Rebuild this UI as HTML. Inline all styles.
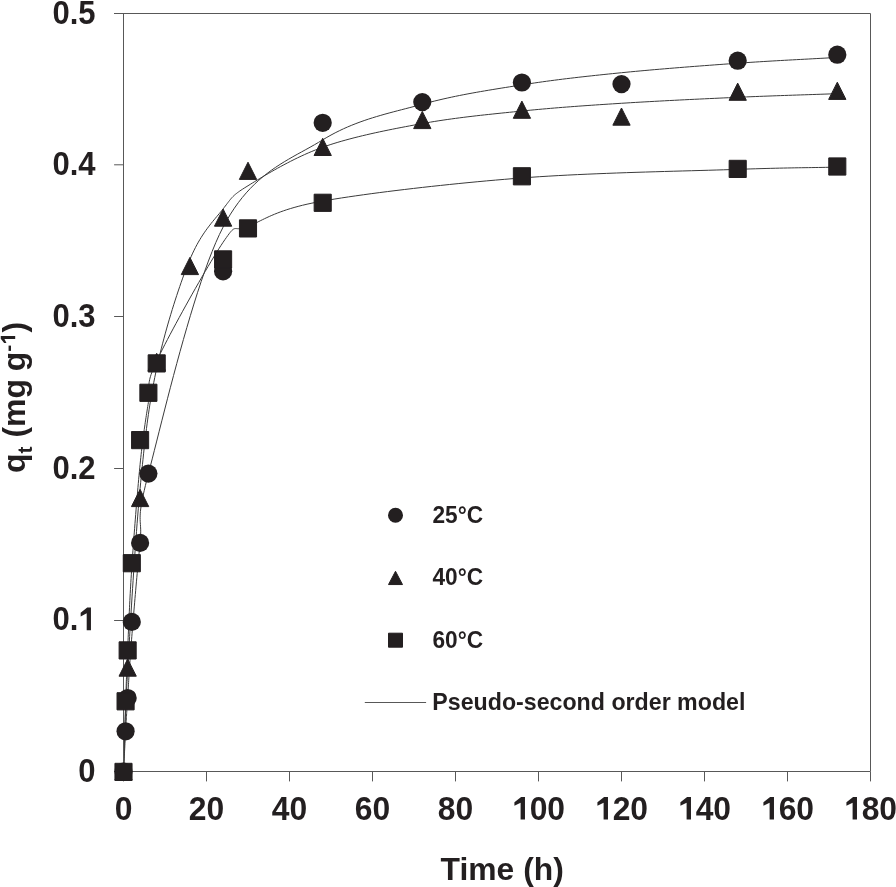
<!DOCTYPE html>
<html><head><meta charset="utf-8"><style>
html,body{margin:0;padding:0;background:#fff;width:896px;height:887px;overflow:hidden}
svg{display:block;will-change:transform}
text{font-family:"Liberation Sans",sans-serif}
</style></head><body>
<svg width="896" height="887" viewBox="0 0 896 887">
<path d="M123.50,771.50 L123.59,769.87 L123.67,768.24 L123.76,766.61 L123.85,764.96 L123.93,763.32 L124.02,761.67 L124.11,760.02 L124.19,758.38 L124.28,756.73 L124.36,755.08 L124.45,753.43 L124.54,751.79 L124.62,750.15 L124.71,748.51 L124.80,746.88 L124.88,745.25 L124.97,743.63 L125.06,742.02 L125.14,740.42 L125.23,738.82 L125.32,737.24 L125.40,735.66 L125.49,734.10 L125.58,732.55 L125.66,731.04 L125.74,729.57 L125.82,728.15 L125.90,726.77 L125.97,725.43 L126.05,724.11 L126.12,722.80 L126.19,721.51 L126.26,720.23 L126.33,718.95 L126.41,717.66 L126.48,716.36 L126.56,715.04 L126.64,713.69 L126.72,712.32 L126.80,710.90 L126.89,709.44 L126.99,707.93 L127.08,706.36 L127.18,704.73 L127.29,703.03 L127.40,701.25 L127.52,699.39 L127.65,697.44 L127.78,695.42 L127.91,693.38 L128.04,691.30 L128.17,689.18 L128.31,687.02 L128.44,684.82 L128.58,682.58 L128.73,680.30 L128.87,677.98 L129.02,675.61 L129.18,673.19 L129.34,670.72 L129.50,668.20 L129.67,665.63 L129.85,663.00 L130.03,660.32 L130.22,657.58 L130.42,654.78 L130.63,651.92 L130.84,649.00 L131.07,646.01 L131.30,642.96 L131.55,639.84 L131.80,636.66 L132.07,633.36 L132.35,629.91 L132.64,626.34 L132.94,622.64 L133.26,618.84 L133.58,614.94 L133.92,610.96 L134.26,606.91 L134.61,602.80 L134.96,598.64 L135.33,594.46 L135.69,590.25 L136.06,586.04 L136.43,581.83 L136.81,577.64 L137.18,573.48 L137.55,569.37 L137.93,565.31 L138.30,561.31 L138.67,557.40 L139.03,553.58 L139.40,549.87 L139.75,546.28 L140.10,542.81 L140.39,539.61 L140.58,536.76 L140.68,534.21 L140.71,531.92 L140.69,529.86 L140.62,527.97 L140.52,526.21 L140.41,524.53 L140.29,522.90 L140.20,521.27 L140.13,519.59 L140.10,517.83 L140.13,515.93 L140.23,513.86 L140.42,511.56 L140.71,509.00 L141.12,506.13 L141.66,502.91 L142.34,499.30 L143.17,495.24 L144.19,490.70 L145.38,485.63 L146.78,479.99 L148.40,473.74 L150.22,466.73 L152.22,458.89 L154.39,450.32 L156.72,441.06 L159.20,431.21 L161.82,420.82 L164.58,409.99 L167.46,398.77 L170.45,387.24 L173.56,375.48 L176.76,363.56 L180.04,351.54 L183.41,339.51 L186.85,327.54 L190.35,315.70 L193.90,304.07 L197.49,292.71 L201.12,281.70 L204.77,271.11 L208.44,261.02 L212.12,251.50 L215.79,242.62 L219.46,234.45 L223.10,227.08 L226.77,220.35 L230.53,214.07 L234.36,208.20 L238.26,202.72 L242.22,197.62 L246.25,192.86 L250.33,188.42 L254.46,184.29 L258.63,180.43 L262.83,176.83 L267.08,173.46 L271.34,170.29 L275.63,167.31 L279.94,164.48 L284.26,161.79 L288.58,159.22 L292.90,156.73 L297.22,154.31 L301.52,151.94 L305.81,149.58 L310.08,147.22 L314.32,144.83 L318.53,142.39 L322.70,139.88 L326.85,137.39 L331.00,135.05 L335.15,132.84 L339.30,130.77 L343.45,128.81 L347.60,126.96 L351.75,125.22 L355.90,123.58 L360.05,122.02 L364.20,120.55 L368.35,119.15 L372.50,117.82 L376.65,116.55 L380.80,115.33 L384.95,114.15 L389.10,113.01 L393.25,111.90 L397.40,110.80 L401.55,109.72 L405.70,108.65 L409.85,107.57 L414.00,106.49 L418.15,105.38 L422.30,104.25 L426.45,103.13 L430.60,102.04 L434.75,101.00 L438.90,100.00 L443.05,99.03 L447.20,98.10 L451.35,97.20 L455.50,96.32 L459.65,95.48 L463.80,94.66 L467.95,93.87 L472.10,93.10 L476.25,92.35 L480.40,91.62 L484.55,90.91 L488.70,90.21 L492.85,89.52 L497.00,88.84 L501.15,88.17 L505.30,87.51 L509.45,86.85 L513.60,86.20 L517.75,85.54 L521.90,84.89 L526.04,84.24 L530.15,83.61 L534.24,83.00 L538.31,82.41 L542.36,81.84 L546.41,81.28 L550.45,80.73 L554.49,80.20 L558.52,79.68 L562.56,79.17 L566.61,78.67 L570.66,78.19 L574.73,77.71 L578.82,77.23 L582.93,76.77 L587.07,76.31 L591.24,75.86 L595.43,75.40 L599.67,74.96 L603.94,74.51 L608.26,74.06 L612.62,73.62 L617.03,73.17 L621.50,72.72 L626.04,72.27 L630.65,71.82 L635.34,71.38 L640.10,70.94 L644.91,70.50 L649.77,70.07 L654.68,69.64 L659.62,69.22 L664.59,68.80 L669.58,68.38 L674.59,67.98 L679.60,67.57 L684.61,67.17 L689.62,66.78 L694.61,66.39 L699.58,66.01 L704.52,65.64 L709.43,65.27 L714.29,64.91 L719.10,64.56 L723.86,64.21 L728.55,63.87 L733.16,63.54 L737.70,63.22 L742.17,62.91 L746.58,62.61 L750.94,62.32 L755.26,62.04 L759.53,61.77 L763.77,61.51 L767.96,61.26 L772.13,61.01 L776.27,60.77 L780.38,60.54 L784.47,60.31 L788.54,60.09 L792.59,59.87 L796.64,59.65 L800.68,59.43 L804.71,59.21 L808.75,59.00 L812.79,58.78 L816.84,58.56 L820.89,58.34 L824.96,58.12 L829.05,57.89 L833.16,57.65 L837.30,57.42" fill="none" stroke="#3a3a3a" stroke-width="1"/>
<path d="M123.50,771.50 L123.67,767.34 L123.82,763.30 L123.96,759.36 L124.10,755.51 L124.22,751.73 L124.34,748.00 L124.46,744.31 L124.58,740.64 L124.69,736.96 L124.81,733.27 L124.93,729.54 L125.06,725.76 L125.19,721.91 L125.33,717.97 L125.49,713.93 L125.65,709.77 L125.83,705.47 L126.03,701.01 L126.24,696.38 L126.48,691.56 L126.73,686.53 L127.01,681.27 L127.32,675.77 L127.65,670.01 L128.01,663.93 L128.38,657.49 L128.78,650.73 L129.20,643.67 L129.63,636.36 L130.08,628.81 L130.55,621.07 L131.03,613.15 L131.53,605.10 L132.04,596.93 L132.56,588.69 L133.10,580.40 L133.64,572.10 L134.20,563.81 L134.76,555.57 L135.34,547.40 L135.92,539.34 L136.50,531.41 L137.09,523.65 L137.69,516.09 L138.29,508.76 L138.89,501.69 L139.49,494.91 L140.10,488.46 L140.70,482.26 L141.29,476.25 L141.86,470.41 L142.43,464.74 L143.00,459.21 L143.57,453.82 L144.14,448.55 L144.71,443.41 L145.29,438.37 L145.88,433.43 L146.48,428.57 L147.10,423.79 L147.74,419.07 L148.40,414.40 L149.08,409.77 L149.78,405.18 L150.52,400.60 L151.29,396.03 L152.09,391.47 L152.92,386.88 L153.80,382.28 L154.72,377.64 L155.69,372.96 L156.70,368.22 L157.77,363.42 L158.89,358.57 L160.06,353.68 L161.27,348.75 L162.53,343.81 L163.83,338.86 L165.17,333.90 L166.54,328.96 L167.93,324.04 L169.36,319.14 L170.80,314.29 L172.26,309.49 L173.74,304.74 L175.23,300.07 L176.72,295.48 L178.22,290.98 L179.72,286.58 L181.21,282.29 L182.70,278.12 L184.17,274.09 L185.64,270.19 L187.08,266.45 L188.50,262.87 L189.90,259.46 L191.29,256.22 L192.69,253.12 L194.11,250.17 L195.53,247.35 L196.96,244.65 L198.39,242.08 L199.83,239.63 L201.27,237.28 L202.71,235.03 L204.15,232.87 L205.59,230.81 L207.02,228.82 L208.44,226.91 L209.86,225.07 L211.26,223.28 L212.65,221.56 L214.02,219.88 L215.38,218.24 L216.73,216.63 L218.05,215.05 L219.35,213.50 L220.62,211.95 L221.88,210.42 L223.10,208.88 L224.25,207.41 L225.31,206.04 L226.27,204.78 L227.15,203.62 L227.97,202.54 L228.74,201.53 L229.47,200.59 L230.17,199.71 L230.86,198.87 L231.54,198.08 L232.24,197.31 L232.96,196.56 L233.71,195.82 L234.51,195.09 L235.38,194.34 L236.32,193.58 L237.34,192.79 L238.47,191.97 L239.70,191.10 L241.06,190.17 L242.56,189.18 L244.21,188.12 L246.02,186.98 L248.00,185.74 L250.14,184.42 L252.40,183.02 L254.78,181.56 L257.28,180.04 L259.88,178.47 L262.59,176.85 L265.39,175.19 L268.29,173.49 L271.27,171.77 L274.33,170.03 L277.47,168.28 L280.68,166.52 L283.95,164.75 L287.29,163.00 L290.68,161.26 L294.11,159.53 L297.59,157.83 L301.11,156.17 L304.66,154.54 L308.23,152.96 L311.83,151.43 L315.44,149.96 L319.07,148.56 L322.70,147.22 L326.37,145.94 L330.13,144.70 L333.96,143.48 L337.86,142.29 L341.82,141.13 L345.85,140.00 L349.93,138.90 L354.06,137.82 L358.23,136.77 L362.43,135.74 L366.68,134.74 L370.94,133.76 L375.23,132.81 L379.54,131.87 L383.86,130.96 L388.18,130.07 L392.50,129.19 L396.82,128.34 L401.12,127.50 L405.41,126.68 L409.68,125.88 L413.92,125.09 L418.13,124.31 L422.30,123.55 L426.45,122.81 L430.60,122.10 L434.75,121.42 L438.90,120.76 L443.05,120.13 L447.20,119.53 L451.35,118.94 L455.50,118.38 L459.65,117.83 L463.80,117.30 L467.95,116.79 L472.10,116.30 L476.25,115.81 L480.40,115.34 L484.55,114.89 L488.70,114.44 L492.85,114.00 L497.00,113.56 L501.15,113.14 L505.30,112.71 L509.45,112.29 L513.60,111.87 L517.75,111.45 L521.90,111.03 L526.04,110.61 L530.15,110.21 L534.24,109.82 L538.31,109.44 L542.36,109.07 L546.41,108.72 L550.45,108.37 L554.49,108.03 L558.52,107.70 L562.56,107.37 L566.61,107.06 L570.66,106.75 L574.73,106.44 L578.82,106.14 L582.93,105.85 L587.07,105.56 L591.24,105.27 L595.43,104.98 L599.67,104.70 L603.94,104.42 L608.26,104.13 L612.62,103.85 L617.03,103.57 L621.50,103.28 L626.04,103.00 L630.65,102.71 L635.34,102.43 L640.10,102.15 L644.91,101.88 L649.77,101.61 L654.68,101.34 L659.62,101.07 L664.59,100.80 L669.58,100.54 L674.59,100.29 L679.60,100.03 L684.61,99.78 L689.62,99.53 L694.61,99.29 L699.58,99.05 L704.52,98.82 L709.43,98.59 L714.29,98.36 L719.10,98.14 L723.86,97.92 L728.55,97.71 L733.16,97.50 L737.70,97.30 L742.17,97.10 L746.58,96.91 L750.94,96.73 L755.26,96.56 L759.53,96.39 L763.77,96.22 L767.96,96.07 L772.13,95.91 L776.27,95.76 L780.38,95.62 L784.47,95.47 L788.54,95.33 L792.59,95.20 L796.64,95.06 L800.68,94.92 L804.71,94.79 L808.75,94.65 L812.79,94.52 L816.84,94.38 L820.89,94.24 L824.96,94.10 L829.05,93.96 L833.16,93.81 L837.30,93.67" fill="none" stroke="#3a3a3a" stroke-width="1"/>
<path d="M123.50,771.50 L123.59,768.66 L123.67,765.80 L123.76,762.92 L123.85,760.03 L123.93,757.12 L124.02,754.21 L124.11,751.29 L124.19,748.37 L124.28,745.45 L124.36,742.53 L124.45,739.61 L124.54,736.71 L124.62,733.81 L124.71,730.94 L124.80,728.08 L124.88,725.23 L124.97,722.42 L125.06,719.63 L125.14,716.86 L125.23,714.14 L125.32,711.44 L125.40,708.78 L125.49,706.17 L125.58,703.59 L125.66,701.09 L125.74,698.67 L125.82,696.33 L125.90,694.06 L125.97,691.84 L126.05,689.68 L126.12,687.55 L126.19,685.46 L126.26,683.39 L126.33,681.34 L126.41,679.29 L126.48,677.24 L126.56,675.17 L126.64,673.09 L126.72,670.97 L126.80,668.82 L126.89,666.62 L126.99,664.36 L127.08,662.03 L127.18,659.64 L127.29,657.16 L127.40,654.58 L127.52,651.91 L127.65,649.12 L127.78,646.25 L127.91,643.32 L128.04,640.34 L128.17,637.30 L128.31,634.20 L128.44,631.06 L128.58,627.86 L128.73,624.61 L128.87,621.32 L129.02,617.98 L129.18,614.60 L129.34,611.17 L129.50,607.70 L129.67,604.19 L129.85,600.64 L130.03,597.05 L130.22,593.43 L130.42,589.77 L130.63,586.08 L130.84,582.35 L131.07,578.60 L131.30,574.82 L131.55,571.00 L131.80,567.17 L132.07,563.25 L132.35,559.20 L132.64,555.03 L132.94,550.76 L133.26,546.40 L133.58,541.96 L133.92,537.46 L134.26,532.91 L134.61,528.32 L134.96,523.72 L135.33,519.10 L135.69,514.48 L136.06,509.89 L136.43,505.32 L136.81,500.80 L137.18,496.33 L137.55,491.94 L137.93,487.63 L138.30,483.42 L138.67,479.32 L139.03,475.34 L139.40,471.51 L139.75,467.82 L140.10,464.30 L140.45,460.92 L140.79,457.64 L141.14,454.46 L141.48,451.37 L141.83,448.37 L142.17,445.45 L142.52,442.62 L142.87,439.86 L143.21,437.17 L143.56,434.55 L143.90,431.99 L144.25,429.48 L144.60,427.04 L144.94,424.64 L145.29,422.28 L145.63,419.96 L145.98,417.68 L146.32,415.44 L146.67,413.21 L147.02,411.02 L147.36,408.83 L147.71,406.67 L148.05,404.51 L148.40,402.35 L148.70,400.30 L148.91,398.43 L149.04,396.73 L149.11,395.16 L149.13,393.72 L149.11,392.37 L149.07,391.11 L149.01,389.90 L148.96,388.72 L148.92,387.56 L148.90,386.40 L148.92,385.20 L148.99,383.96 L149.12,382.65 L149.33,381.24 L149.63,379.72 L150.03,378.07 L150.54,376.26 L151.18,374.28 L151.95,372.10 L152.88,369.69 L153.97,367.05 L155.24,364.15 L156.70,360.96 L158.39,357.41 L160.33,353.45 L162.50,349.12 L164.88,344.46 L167.45,339.52 L170.19,334.31 L173.07,328.90 L176.07,323.32 L179.17,317.60 L182.35,311.78 L185.59,305.91 L188.86,300.02 L192.15,294.15 L195.43,288.35 L198.69,282.65 L201.89,277.08 L205.02,271.70 L208.06,266.53 L210.98,261.62 L213.76,257.00 L216.39,252.72 L218.83,248.81 L221.08,245.32 L223.10,242.28 L224.89,239.66 L226.47,237.40 L227.86,235.45 L229.08,233.81 L230.14,232.45 L231.08,231.33 L231.90,230.45 L232.63,229.77 L233.29,229.26 L233.90,228.91 L234.47,228.69 L235.03,228.58 L235.60,228.55 L236.20,228.57 L236.84,228.62 L237.55,228.69 L238.34,228.73 L239.25,228.74 L240.27,228.68 L241.45,228.53 L242.79,228.26 L244.31,227.85 L246.04,227.29 L248.00,226.53 L250.06,225.65 L252.09,224.74 L254.10,223.79 L256.13,222.82 L258.17,221.82 L260.26,220.79 L262.39,219.74 L264.60,218.67 L266.89,217.58 L269.29,216.48 L271.81,215.37 L274.46,214.25 L277.26,213.13 L280.23,211.99 L283.38,210.86 L286.73,209.73 L290.30,208.61 L294.10,207.49 L298.15,206.38 L302.47,205.28 L307.06,204.19 L311.96,203.13 L317.16,202.08 L322.70,201.06 L328.60,200.04 L334.89,199.00 L341.53,197.95 L348.50,196.90 L355.79,195.84 L363.36,194.77 L371.19,193.70 L379.26,192.64 L387.55,191.57 L396.03,190.52 L404.68,189.47 L413.48,188.44 L422.40,187.42 L431.42,186.42 L440.51,185.44 L449.66,184.48 L458.83,183.54 L468.01,182.64 L477.18,181.76 L486.30,180.92 L495.35,180.11 L504.32,179.35 L513.18,178.62 L521.90,177.94 L530.67,177.30 L539.67,176.69 L548.87,176.13 L558.25,175.59 L567.77,175.09 L577.41,174.62 L587.13,174.18 L596.91,173.77 L606.72,173.38 L616.52,173.01 L626.30,172.67 L636.02,172.34 L645.66,172.04 L655.18,171.75 L664.56,171.47 L673.76,171.21 L682.76,170.96 L691.53,170.72 L700.04,170.49 L708.27,170.26 L716.17,170.03 L723.73,169.81 L730.92,169.59 L737.70,169.36 L744.07,169.15 L750.07,168.95 L755.71,168.78 L761.02,168.62 L766.04,168.48 L770.77,168.35 L775.25,168.24 L779.51,168.14 L783.56,168.06 L787.44,167.98 L791.16,167.91 L794.76,167.84 L798.26,167.78 L801.68,167.73 L805.06,167.68 L808.40,167.63 L811.75,167.58 L815.12,167.53 L818.55,167.47 L822.04,167.41 L825.64,167.35 L829.37,167.28 L833.25,167.20 L837.30,167.11" fill="none" stroke="#3a3a3a" stroke-width="1"/>
<path d="M114,13.5 H870.5 V771.5 M123.5,13.5 V771.5 M123.5,771.5 H870.5" fill="none" stroke="#585858" stroke-width="1"/>
<path d="M114.5,771.5 H123 M114.5,620.5 H123 M114.5,468.5 H123 M114.5,316.5 H123 M114.5,164.8 H123 M114.5,13.5 H123 M123.5,772 V781 M206.5,772 V781 M289.5,772 V781 M372.5,772 V781 M455.5,772 V781 M538.5,772 V781 M621.5,772 V781 M704.5,772 V781 M787.5,772 V781 M870.5,772 V781" fill="none" stroke="#585858" stroke-width="1" stroke-linecap="round"/>
<circle cx="123.50" cy="771.50" r="9.1" fill="#231f20"/>
<circle cx="125.58" cy="731.30" r="9.1" fill="#231f20"/>
<circle cx="127.65" cy="698.00" r="9.1" fill="#231f20"/>
<circle cx="131.80" cy="621.90" r="9.1" fill="#231f20"/>
<circle cx="140.10" cy="542.90" r="9.1" fill="#231f20"/>
<circle cx="148.40" cy="473.60" r="9.1" fill="#231f20"/>
<circle cx="223.10" cy="271.30" r="9.1" fill="#231f20"/>
<circle cx="322.70" cy="122.80" r="9.1" fill="#231f20"/>
<circle cx="422.30" cy="102.10" r="9.1" fill="#231f20"/>
<circle cx="521.90" cy="82.50" r="9.1" fill="#231f20"/>
<circle cx="621.50" cy="84.10" r="9.1" fill="#231f20"/>
<circle cx="737.70" cy="60.70" r="9.1" fill="#231f20"/>
<circle cx="837.30" cy="54.70" r="9.1" fill="#231f20"/>
<path d="M123.50,762.90 L132.15,780.10 L114.85,780.10 Z" fill="#231f20" stroke="#231f20" stroke-width="1.0" stroke-linejoin="round"/>
<path d="M127.65,659.00 L136.30,676.20 L119.00,676.20 Z" fill="#231f20" stroke="#231f20" stroke-width="1.0" stroke-linejoin="round"/>
<path d="M140.10,489.40 L148.75,506.60 L131.45,506.60 Z" fill="#231f20" stroke="#231f20" stroke-width="1.0" stroke-linejoin="round"/>
<path d="M156.70,353.30 L165.35,370.50 L148.05,370.50 Z" fill="#231f20" stroke="#231f20" stroke-width="1.0" stroke-linejoin="round"/>
<path d="M189.90,257.40 L198.55,274.60 L181.25,274.60 Z" fill="#231f20" stroke="#231f20" stroke-width="1.0" stroke-linejoin="round"/>
<path d="M223.10,209.00 L231.75,226.20 L214.45,226.20 Z" fill="#231f20" stroke="#231f20" stroke-width="1.0" stroke-linejoin="round"/>
<path d="M248.00,162.20 L256.65,179.40 L239.35,179.40 Z" fill="#231f20" stroke="#231f20" stroke-width="1.0" stroke-linejoin="round"/>
<path d="M322.70,138.30 L331.35,155.50 L314.05,155.50 Z" fill="#231f20" stroke="#231f20" stroke-width="1.0" stroke-linejoin="round"/>
<path d="M422.30,111.40 L430.95,128.60 L413.65,128.60 Z" fill="#231f20" stroke="#231f20" stroke-width="1.0" stroke-linejoin="round"/>
<path d="M521.90,101.10 L530.55,118.30 L513.25,118.30 Z" fill="#231f20" stroke="#231f20" stroke-width="1.0" stroke-linejoin="round"/>
<path d="M621.50,108.00 L630.15,125.20 L612.85,125.20 Z" fill="#231f20" stroke="#231f20" stroke-width="1.0" stroke-linejoin="round"/>
<path d="M737.70,83.10 L746.35,100.30 L729.05,100.30 Z" fill="#231f20" stroke="#231f20" stroke-width="1.0" stroke-linejoin="round"/>
<path d="M837.30,82.20 L845.95,99.40 L828.65,99.40 Z" fill="#231f20" stroke="#231f20" stroke-width="1.0" stroke-linejoin="round"/>
<rect x="114.95" y="763.30" width="17.10" height="17.20" fill="#231f20" stroke="#231f20" stroke-width="1.0" stroke-linejoin="round"/>
<rect x="117.03" y="692.70" width="17.10" height="17.20" fill="#231f20" stroke="#231f20" stroke-width="1.0" stroke-linejoin="round"/>
<rect x="119.10" y="641.80" width="17.10" height="17.20" fill="#231f20" stroke="#231f20" stroke-width="1.0" stroke-linejoin="round"/>
<rect x="123.25" y="554.60" width="17.10" height="17.20" fill="#231f20" stroke="#231f20" stroke-width="1.0" stroke-linejoin="round"/>
<rect x="131.55" y="431.50" width="17.10" height="17.20" fill="#231f20" stroke="#231f20" stroke-width="1.0" stroke-linejoin="round"/>
<rect x="139.85" y="384.20" width="17.10" height="17.20" fill="#231f20" stroke="#231f20" stroke-width="1.0" stroke-linejoin="round"/>
<rect x="148.15" y="354.80" width="17.10" height="17.20" fill="#231f20" stroke="#231f20" stroke-width="1.0" stroke-linejoin="round"/>
<rect x="214.55" y="250.80" width="17.10" height="17.20" fill="#231f20" stroke="#231f20" stroke-width="1.0" stroke-linejoin="round"/>
<rect x="239.45" y="219.80" width="17.10" height="17.20" fill="#231f20" stroke="#231f20" stroke-width="1.0" stroke-linejoin="round"/>
<rect x="314.15" y="194.20" width="17.10" height="17.20" fill="#231f20" stroke="#231f20" stroke-width="1.0" stroke-linejoin="round"/>
<rect x="513.35" y="167.70" width="17.10" height="17.20" fill="#231f20" stroke="#231f20" stroke-width="1.0" stroke-linejoin="round"/>
<rect x="729.15" y="160.30" width="17.10" height="17.20" fill="#231f20" stroke="#231f20" stroke-width="1.0" stroke-linejoin="round"/>
<rect x="828.75" y="157.90" width="17.10" height="17.20" fill="#231f20" stroke="#231f20" stroke-width="1.0" stroke-linejoin="round"/>
<g font-family="Liberation Sans, sans-serif" font-weight="bold" fill="#231f20">
<g transform="translate(95.50,781.80) scale(0.94,1)"><text x="-18.35" y="0" font-size="33.0">0</text></g>
<g transform="translate(95.50,630.20) scale(0.94,1)"><text x="-45.87" y="0" font-size="33.0">0.</text><path transform="translate(-18.35,0) scale(0.01611,-0.01611)" d="M558,0 L839,0 L839,1409 L590,1409 L160,1081 L160,853 L558,1049 Z"/></g>
<g transform="translate(95.50,478.60) scale(0.94,1)"><text x="-45.87" y="0" font-size="33.0">0.2</text></g>
<g transform="translate(95.50,327.00) scale(0.94,1)"><text x="-45.87" y="0" font-size="33.0">0.3</text></g>
<g transform="translate(95.50,175.40) scale(0.94,1)"><text x="-45.87" y="0" font-size="33.0">0.4</text></g>
<g transform="translate(95.50,23.80) scale(0.94,1)"><text x="-45.87" y="0" font-size="33.0">0.5</text></g>
<g transform="translate(123.50,819.60) scale(0.965,1)"><text x="-9.18" y="0" font-size="33.0">0</text></g>
<g transform="translate(206.50,819.60) scale(0.965,1)"><text x="-18.35" y="0" font-size="33.0">20</text></g>
<g transform="translate(289.50,819.60) scale(0.965,1)"><text x="-18.35" y="0" font-size="33.0">40</text></g>
<g transform="translate(372.50,819.60) scale(0.965,1)"><text x="-18.35" y="0" font-size="33.0">60</text></g>
<g transform="translate(455.50,819.60) scale(0.965,1)"><text x="-18.35" y="0" font-size="33.0">80</text></g>
<g transform="translate(538.50,819.60) scale(0.965,1)"><path transform="translate(-27.53,0) scale(0.01611,-0.01611)" d="M558,0 L839,0 L839,1409 L590,1409 L160,1081 L160,853 L558,1049 Z"/><text x="-9.18" y="0" font-size="33.0">00</text></g>
<g transform="translate(621.50,819.60) scale(0.965,1)"><path transform="translate(-27.53,0) scale(0.01611,-0.01611)" d="M558,0 L839,0 L839,1409 L590,1409 L160,1081 L160,853 L558,1049 Z"/><text x="-9.18" y="0" font-size="33.0">20</text></g>
<g transform="translate(704.50,819.60) scale(0.965,1)"><path transform="translate(-27.53,0) scale(0.01611,-0.01611)" d="M558,0 L839,0 L839,1409 L590,1409 L160,1081 L160,853 L558,1049 Z"/><text x="-9.18" y="0" font-size="33.0">40</text></g>
<g transform="translate(787.50,819.60) scale(0.965,1)"><path transform="translate(-27.53,0) scale(0.01611,-0.01611)" d="M558,0 L839,0 L839,1409 L590,1409 L160,1081 L160,853 L558,1049 Z"/><text x="-9.18" y="0" font-size="33.0">60</text></g>
<g transform="translate(870.50,819.60) scale(0.965,1)"><path transform="translate(-27.53,0) scale(0.01611,-0.01611)" d="M558,0 L839,0 L839,1409 L590,1409 L160,1081 L160,853 L558,1049 Z"/><text x="-9.18" y="0" font-size="33.0">80</text></g>
<g transform="translate(440.60,879.90) scale(1.027,1)"><text x="0.00" y="0" font-size="31">Time (h)</text></g>
<g transform="translate(25,473) rotate(-90)"><text x="0" y="0" font-size="32">q</text><text x="19.55" y="7" font-size="21">t</text><text x="35.43" y="0" font-size="32">(mg</text><text x="101.78" y="0" font-size="32">g</text><g transform="translate(121.32,-9.8)"><text x="0.00" y="0" font-size="21">-</text><path transform="translate(6.99,0) scale(0.01025,-0.01025)" d="M558,0 L839,0 L839,1409 L590,1409 L160,1081 L160,853 L558,1049 Z"/></g><text x="140.60" y="0" font-size="32">)</text></g>
<g transform="translate(432.50,523.20) scale(0.945,1)"><text x="0.00" y="0" font-size="24">25°C</text></g>
<g transform="translate(432.50,585.40) scale(0.945,1)"><text x="0.00" y="0" font-size="24">40°C</text></g>
<g transform="translate(432.50,648.00) scale(0.945,1)"><text x="0.00" y="0" font-size="24">60°C</text></g>
<g transform="translate(432.30,710.00) scale(1.0,1)"><text x="0.00" y="0" font-size="23.2">Pseudo-second order model</text></g>
</g>
<circle cx="395.50" cy="515.30" r="7.5" fill="#231f20"/>
<path d="M395.50,571.25 L402.50,584.55 L388.50,584.55 Z" fill="#231f20" stroke="#231f20" stroke-width="1.0" stroke-linejoin="round"/>
<rect x="388.50" y="633.20" width="14.00" height="14.00" fill="#231f20" stroke="#231f20" stroke-width="1.0" stroke-linejoin="round"/>
<path d="M364.8,702.5 H426.1" stroke="#585858" stroke-width="1"/>
</svg>
</body></html>
